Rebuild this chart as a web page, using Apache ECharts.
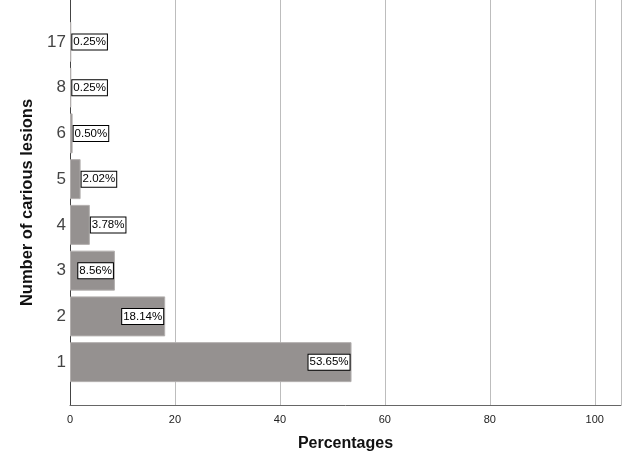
<!DOCTYPE html>
<html>
<head>
<meta charset="utf-8">
<script src="https://cdn.jsdelivr.net/npm/echarts@6/dist/echarts.min.js"></script>
<style>
  html, body { margin: 0; padding: 0; background: #fff; }
  #main { width: 629px; height: 470px; }
</style>
</head>
<body>
<div id="main"></div>
<script>
var lesions = ['1', '2', '3', '4', '5', '6', '8', '17'];
var percentages = [53.65, 18.14, 8.56, 3.78, 2.02, 0.50, 0.25, 0.25];
var xTicks = [0, 20, 40, 60, 80, 100];

var chart = echarts.init(document.getElementById('main'), null, { renderer: 'canvas' });

var font = 'Liberation Sans, Arial, sans-serif';

// labels sit inside the bar end when they fit, otherwise just right of it
var barData = percentages.map(function (v) {
  return {
    value: v,
    label: { position: v > 5 ? 'insideRight' : 'right', distance: v > 5 ? 2 : 1 }
  };
});

var option = {
  backgroundColor: '#fff',
  animation: false,
  grid: [
    // frame grid: axes + gridlines
    { left: 70, right: 8, top: 0, bottom: 65 },
    // bars grid, padded inside the frame
    { left: 70, right: 8, top: 19, bottom: 85 }
  ],
  xAxis: [
    {
      gridIndex: 0,
      type: 'value',
      min: 0,
      max: 105,
      interval: 20,
      name: 'Percentages',
      nameLocation: 'middle',
      nameGap: 31,
      nameTextStyle: { fontFamily: font, fontSize: 16, fontWeight: 'bold', color: '#111' },
      axisLine: { show: true, lineStyle: { color: '#666', width: 1 } },
      axisTick: { show: false },
      axisLabel: {
        fontFamily: font, fontSize: 11, color: '#222', margin: 9,
        showMaxLabel: false,
        formatter: function (v) { return xTicks.indexOf(v) >= 0 ? String(v) : ''; }
      },
      splitLine: { show: true, lineStyle: { color: '#bdbdbd', width: 1 } }
    },
    {
      gridIndex: 1,
      type: 'value',
      min: 0,
      max: 105,
      show: false
    }
  ],
  yAxis: [
    {
      gridIndex: 0,
      type: 'value',
      min: 0,
      max: 1,
      name: 'Number of carious lesions',
      nameLocation: 'middle',
      nameGap: 34,
      nameTextStyle: { fontFamily: font, fontSize: 16.5, fontWeight: 'bold', color: '#111' },
      axisLine: { show: true, lineStyle: { color: '#444', width: 1 } },
      axisTick: { show: false },
      axisLabel: { show: false },
      splitLine: { show: false }
    },
    {
      gridIndex: 1,
      type: 'category',
      data: lesions,
      axisLine: { show: false },
      axisTick: { show: false },
      axisLabel: { fontFamily: font, fontSize: 17, color: '#444', margin: 4 }
    }
  ],
  series: [
    {
      type: 'bar',
      xAxisIndex: 1,
      yAxisIndex: 1,
      data: barData,
      barWidth: 40,
      itemStyle: { color: '#959190', borderColor: '#b3afae', borderWidth: 1 },
      label: {
        show: true,
        formatter: function (p) { return p.value.toFixed(2) + '%'; },
        fontFamily: font,
        fontSize: 11.5,
        color: '#000',
        backgroundColor: '#fff',
        borderColor: '#000',
        borderWidth: 1,
        padding: [2, 1, 1, 1]
      }
    }
  ]
};

chart.setOption(option);
</script>
</body>
</html>
